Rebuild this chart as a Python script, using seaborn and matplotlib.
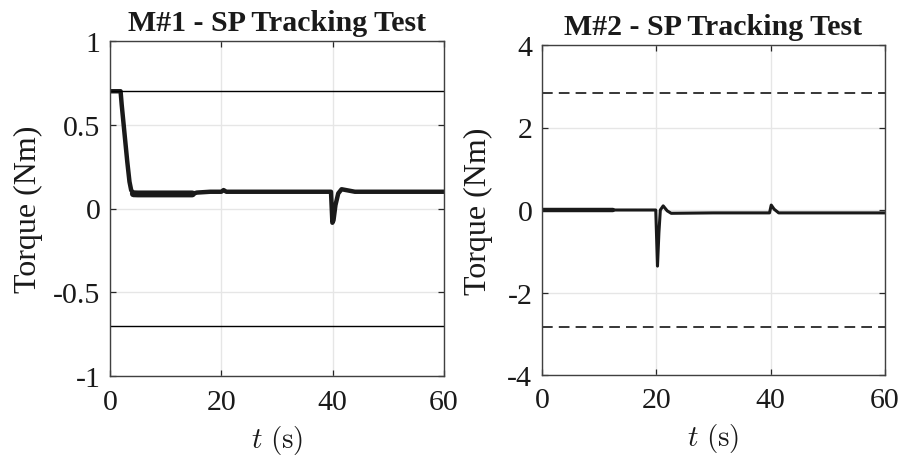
import numpy as np
import pandas as pd
import matplotlib
matplotlib.use('Agg')
import matplotlib.pyplot as plt
import seaborn as sns

# M#1 torque
t1 = [0, 1.9, 2.1, 2.6, 3.1, 3.5, 3.8, 4.2, 5.0, 10.0, 14.8, 15.6, 18.0, 20.0, 20.4, 20.9, 25.0,
      39.7, 39.95, 40.15, 40.5, 41.0, 41.6, 42.4, 44.0, 48.0, 60.0]
v1 = [0.70, 0.70, 0.62, 0.45, 0.28, 0.16, 0.11, 0.09, 0.087, 0.087, 0.087, 0.095, 0.10, 0.10, 0.11, 0.10, 0.10,
      0.10, -0.085, -0.07, 0.02, 0.09, 0.115, 0.11, 0.10, 0.10, 0.10]
# noisy band of M#1 between ~4 s and ~15 s
t1_band = [4.2, 5.0, 10.0, 14.8]
v1_band = [0.088, 0.087, 0.087, 0.087]
lim1 = 0.7

# M#2 torque
t2 = [0, 12.4, 19.9, 20.2, 20.45, 20.7, 21.2, 21.9, 22.6, 30.0, 39.8, 40.1, 40.6, 41.4, 45.0, 60.0]
v2 = [0.0, 0.0, 0.0, -1.36, -0.55, 0.0, 0.10, -0.02, -0.08, -0.07, -0.07, 0.12, 0.02, -0.07, -0.07, -0.07]
t2_thick = [0, 12.4]
v2_thick = [0.0, 0.0]
lim2 = 2.83

yticks1 = [-1, -0.5, 0, 0.5, 1]
ylabels1 = ['-1', '-0.5', '0', '0.5', '1']
yticks2 = [-4, -2, 0, 2, 4]
ylabels2 = ['-4', '-2', '0', '2', '4']
xticks = [0, 20, 40, 60]

sns.set_theme(style='ticks')
plt.rcParams['font.family'] = ['Liberation Serif', 'DejaVu Serif']
plt.rcParams['mathtext.fontset'] = 'cm'
plt.rcParams['axes.unicode_minus'] = False

fig = plt.figure(figsize=(9.04, 4.6), dpi=100)
ax1 = fig.add_axes([110/904, 1-377/460, 334/904, 335/460])
ax2 = fig.add_axes([542/904, 1-376/460, 343/904, 330/460])

lc = '#1a1a1a'
sns.lineplot(x=t1, y=v1, ax=ax1, sort=False, estimator=None, color=lc, lw=3.2)
sns.lineplot(x=t1_band, y=v1_band, ax=ax1, sort=False, estimator=None, color=lc, lw=5.0)
ax1.axhline(lim1, color='black', lw=1.0)
ax1.axhline(-lim1, color='black', lw=1.0)

sns.lineplot(x=t2, y=v2, ax=ax2, sort=False, estimator=None, color=lc, lw=2.2)
sns.lineplot(x=t2_thick, y=v2_thick, ax=ax2, sort=False, estimator=None, color=lc, lw=3.2)
ax2.axhline(lim2, color='black', lw=1.1, dashes=(7, 4))
ax2.axhline(-lim2, color='black', lw=1.1, dashes=(7, 4))

for ax, yt, yl, title, ylx in [(ax1, yticks1, ylabels1, 'M#1 - SP Tracking Test', -0.20),
                               (ax2, yticks2, ylabels2, 'M#2 - SP Tracking Test', -0.143)]:
    ax.set_xlim(0, 60)
    ax.set_ylim(yt[0], yt[-1])
    ax.set_xticks(xticks)
    ax.set_xticklabels([str(x) for x in xticks])
    ax.set_yticks(yt)
    ax.set_yticklabels(yl)
    ax.grid(True, color='#e6e6e6', lw=1.0)
    ax.set_axisbelow(True)
    ax.tick_params(direction='in', length=4, width=0.9, top=True, right=True,
                   labelsize=21.5, colors='#262626', labelcolor='#1a1a1a')
    ax.tick_params(axis='x', pad=9)
    ax.tick_params(axis='y', pad=7)
    for s in ax.spines.values():
        s.set_color('#404040')
        s.set_linewidth(1.0)
    ax.set_title(title, fontsize=21.5, fontweight='bold', pad=8, color='#1a1a1a')
    ax.set_ylabel('Torque (Nm)', fontsize=23, color='#1a1a1a')
    ax.yaxis.set_label_coords(ylx, 0.5)
    ax.set_xlabel(r'$t\ (\mathrm{s})$', fontsize=21, color='#1a1a1a')
    ax.xaxis.set_label_coords(0.5, -0.14)

plt.savefig('out.png', dpi=100)
